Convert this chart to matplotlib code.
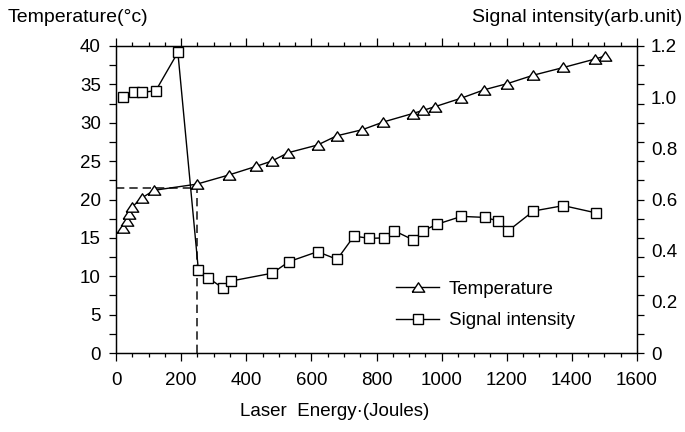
import matplotlib
matplotlib.use('Agg')
import matplotlib.pyplot as plt
from matplotlib.ticker import MultipleLocator
from matplotlib.lines import Line2D

plt.rcParams['font.family'] = ['Liberation Sans', 'DejaVu Sans']

# Temperature series (left axis)
temp_energy = [21, 33, 40, 49, 79, 117, 248, 347, 429, 478, 529, 619, 678, 757,
               821, 911, 942, 980, 1060, 1131, 1202, 1282, 1374, 1471, 1502]
temp_values = [16.3, 17.2, 18.1, 19.0, 20.2, 21.2, 22.0, 23.2, 24.3, 25.0, 26.1,
               27.1, 28.3, 29.1, 30.1, 31.2, 31.6, 32.1, 33.2, 34.3, 35.1, 36.2,
               37.2, 38.3, 38.7]

# Signal intensity series (right axis)
signal_energy = [22, 56, 81, 122, 190, 253, 283, 329, 352, 480, 531, 619, 679,
                 731, 778, 824, 854, 913, 944, 985, 1061, 1133, 1174, 1205, 1282,
                 1374, 1473]
signal_values = [1.002, 1.019, 1.019, 1.025, 1.175, 0.324, 0.294, 0.253, 0.281,
                 0.312, 0.357, 0.396, 0.366, 0.457, 0.448, 0.450, 0.478, 0.442,
                 0.478, 0.503, 0.534, 0.530, 0.516, 0.478, 0.555, 0.576, 0.548]

# Dashed guide lines
guide_energy = 248
guide_temp = 21.5

x_ticks = [0, 200, 400, 600, 800, 1000, 1200, 1400, 1600]
left_ticks = [0, 5, 10, 15, 20, 25, 30, 35, 40]
right_ticks = [0, 0.2, 0.4, 0.6, 0.8, 1.0, 1.2]
right_labels = ['0', '0.2', '0.4', '0.6', '0.8', '1.0', '1.2']

W, H = 685, 432
fig = plt.figure(figsize=(W / 100, H / 100), dpi=100)
ax = fig.add_axes([116 / W, 1 - 353 / H, (637 - 116) / W, (353 - 46) / H])
ax2 = ax.twinx()

tri = [(-1, -0.75), (1, -0.75), (0, 0.75), (-1, -0.75)]

ax.plot(temp_energy, temp_values, color='black', lw=1.0, marker=tri,
        ms=9, mfc='white', mec='black', mew=1.0, zorder=3)
ax2.plot(signal_energy, signal_values, color='black', lw=1.0, marker='s',
         ms=7.5, mfc='white', mec='black', mew=1.0, zorder=3)

ax.plot([0, guide_energy], [guide_temp, guide_temp], color='#222222', lw=1.2,
        ls=(0, (5, 3)), zorder=2)
ax.plot([guide_energy, guide_energy], [0, guide_temp], color='#222222', lw=1.2,
        ls=(0, (5, 3)), zorder=2)

ax.set_xlim(0, 1600)
ax.set_ylim(0, 40)
ax2.set_ylim(0, 1.2)

ax.set_xticks(x_ticks)
ax.xaxis.set_minor_locator(MultipleLocator(50))
ax.set_yticks(left_ticks)
ax.yaxis.set_minor_locator(MultipleLocator(2.5))
ax2.set_yticks(right_ticks)
ax2.set_yticklabels(right_labels)

ax.tick_params(axis='x', which='major', direction='out', length=6, width=0.9,
               top=True, bottom=True, labelsize=13.5, pad=8)
ax.tick_params(axis='x', which='minor', direction='out', length=3, width=0.9,
               top=True, bottom=True)
ax.tick_params(axis='y', which='both', direction='out', length=5, width=0.9,
               left=True, right=True, labelleft=True, labelright=False,
               labelsize=13.5, pad=6)
ax2.tick_params(axis='y', which='both', length=0, labelsize=13.5, pad=10)

for a in (ax, ax2):
    for s in a.spines.values():
        s.set_linewidth(0.9)

fig.text(335 / W, 1 - 412 / H, 'Laser  Energy·(Joules)', fontsize=13.5,
         ha='center', va='center')

fig.text(8 / W, 1 - 17 / H, 'Temperature(°c)', fontsize=14, ha='left', va='center')
fig.text(682 / W, 1 - 17 / H, 'Signal intensity(arb.unit)', fontsize=14,
         ha='right', va='center')

handles = [
    Line2D([], [], color='black', lw=1.0, marker=tri, ms=9, mfc='white', mec='black'),
    Line2D([], [], color='black', lw=1.0, marker='s', ms=7.5, mfc='white', mec='black'),
]
fig.legend(handles, ['Temperature', 'Signal intensity'], loc='center left',
           bbox_to_anchor=(387 / W, 1 - 305 / H), frameon=False, fontsize=13.5,
           handlelength=2.3, handletextpad=0.5, labelspacing=0.75, borderpad=0,
           numpoints=1)

fig.savefig('out.png', dpi=100)
